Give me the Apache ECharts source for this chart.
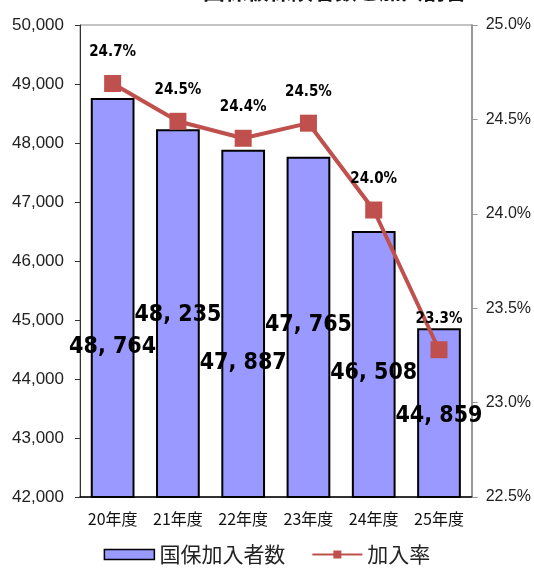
<!DOCTYPE html>
<html>
<head>
<meta charset="utf-8">
<script src="https://cdn.jsdelivr.net/npm/echarts@6/dist/echarts.min.js"></script>
<style>html,body{margin:0;padding:0;background:#fff}#c{width:534px;height:570px}</style>
</head>
<body>
<div id="c"></div>
<script>
const categories = ['20年度', '21年度', '22年度', '23年度', '24年度', '25年度'];
const members = [48764, 48235, 47887, 47765, 46508, 44859];
const rates = [24.69, 24.49, 24.40, 24.48, 24.02, 23.28];
const rateLabels = ['24.7%', '24.5%', '24.4%', '24.5%', '24.0%', '23.3%'];
const leftTicks = { min: 42000, max: 50000, interval: 1000 };
const rightTicks = { min: 22.5, max: 25.0, interval: 0.5 };
const seriesNames = ['国保加入者数', '加入率'];
const titleText = '国保被保険者数と加入割合';

// layout only: vertical pixel offset of each bar's value label from the bar top
const barLabelOffsetY = [233, 169, 197, 152, 126, 71];

function fmtNum(v) {
  const s = String(v);
  return s.slice(0, s.length - 3) + ', ' + s.slice(-3);
}

const chart = echarts.init(document.getElementById('c'), null, { renderer: 'canvas' });
chart.setOption({
  animation: false,
  backgroundColor: '#fff',
  title: {
    text: titleText, left: 198, top: -25,
    textStyle: { fontSize: 22, fontWeight: 'bold', color: '#111', fontFamily: 'Noto Sans CJK JP' }
  },
  grid: { left: 80, right: 62, top: 25, bottom: 73, show: true, borderColor: '#888', borderWidth: 1 },
  legend: {
    bottom: 0, left: 'center', itemGap: 26, itemWidth: 50, itemHeight: 10,
    textStyle: { fontSize: 21, color: '#222', fontFamily: 'Noto Sans CJK JP' },
    data: [
      { name: seriesNames[0], icon: 'rect', itemStyle: { color: '#9999FF', borderColor: '#000', borderWidth: 1.5 } },
      { name: seriesNames[1] }
    ]
  },
  xAxis: {
    type: 'category', data: categories,
    axisLine: { lineStyle: { color: '#000', width: 1.5 } },
    axisTick: { show: false },
    axisLabel: { fontSize: 16, color: '#111', margin: 14, fontFamily: 'Noto Sans CJK JP' }
  },
  yAxis: [
    {
      type: 'value', min: leftTicks.min, max: leftTicks.max, interval: leftTicks.interval,
      axisLine: { show: true, lineStyle: { color: '#333' } },
      axisTick: { show: true, inside: false, length: 5, lineStyle: { color: '#333' } },
      splitLine: { show: false },
      axisLabel: {
        fontSize: 17, color: '#222', margin: 16, fontFamily: 'Liberation Sans',
        formatter: v => v.toLocaleString('en-US')
      }
    },
    {
      type: 'value', min: rightTicks.min, max: rightTicks.max, interval: rightTicks.interval,
      position: 'right',
      axisLine: { show: true, lineStyle: { color: '#999', width: 2 } },
      axisTick: { show: true, length: 6, lineStyle: { color: '#999' } },
      splitLine: { show: false },
      axisLabel: {
        fontSize: 16, color: '#222', margin: 14, fontFamily: 'Liberation Sans',
        formatter: v => v.toFixed(1) + '%'
      }
    }
  ],
  series: [
    {
      name: seriesNames[0], type: 'bar', yAxisIndex: 0, barCategoryGap: '33%',
      itemStyle: { color: '#9999FF', borderColor: '#000', borderWidth: 2 },
      data: members.map((v, i) => ({
        value: v,
        label: {
          show: true, position: 'insideTop', offset: [0, barLabelOffsetY[i]],
          formatter: fmtNum(v),
          fontSize: 23, fontWeight: 'bold', color: '#000',
          fontFamily: 'DejaVu Sans Condensed'
        }
      })),
      z: 2
    },
    {
      name: seriesNames[1], type: 'line', yAxisIndex: 1,
      data: rates,
      lineStyle: { color: '#C0504D', width: 4 },
      itemStyle: { color: '#C0504D' },
      symbol: 'rect', symbolSize: 17,
      label: {
        show: true, position: 'top', distance: 15,
        formatter: p => rateLabels[p.dataIndex],
        fontSize: 15, fontWeight: 'bold', color: '#000', fontFamily: 'DejaVu Sans Condensed'
      },
      z: 3
    }
  ]
});
</script>
</body>
</html>
